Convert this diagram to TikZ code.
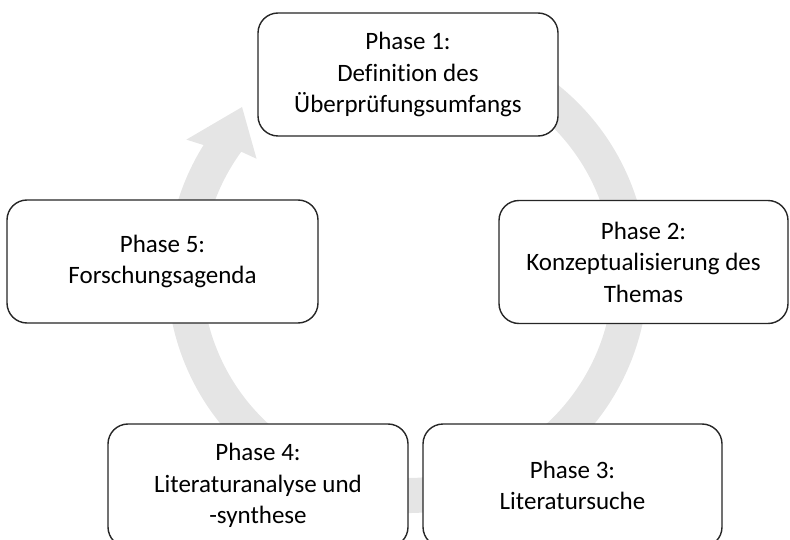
\documentclass[tikz,border=0pt]{standalone}
\usepackage{fontspec}
\setmainfont{Carlito}[Ligatures=NoCommon]
\usepackage{tikz}
\usetikzlibrary{calc}

\tikzset{
  phasebox/.style={draw=black!85, line width=1.4pt, rounded corners=20pt, fill=white,
    align=center, inner sep=0pt, minimum height=123pt,
    font=\fontsize{25}{31.5}\selectfont},
  cyclearrow/.style={fill=black!10, draw=none}
}

\begin{document}
\begin{tikzpicture}[x=1pt,y=1pt]
   \clip (0,0) rectangle (790,539);
   \useasboundingbox (0,0) rectangle (790,539);
   \coordinate (c) at (407.5,266.5);

   % grey ring behind the boxes
   \fill[cyclearrow] ($(c)+(100:240.5)$) arc[start angle=100, end angle=-212, radius=240.5]
      -- ($(c)+(149:258)$) -- ($(c)+(135:234)$) -- ($(c)+(143:189)$)
      -- ($(c)+(144:205.5)$) arc[start angle=-216, end angle=100, radius=205.5] -- cycle;

   \node[phasebox, minimum width=300pt] (ph1) at (408,464.5) {Phase 1:\\Definition des\\Überprüfungsumfangs};
   \node[phasebox, minimum width=289pt] (ph2) at (643.5,277) {Phase 2:\\Konzeptualisierung des\\Themas};
   \node[phasebox, minimum width=299pt] (ph3) at (572.5,53.5) {Phase 3:\\Literatursuche};
   \node[phasebox, minimum width=300pt] (ph4) at (258,53.5) {Phase 4:\\Literaturanalyse und\\-synthese};
   \node[phasebox, minimum width=311pt] (ph5) at (162.5,277.5) {Phase 5:\\Forschungsagenda};
\end{tikzpicture}
\end{document}
